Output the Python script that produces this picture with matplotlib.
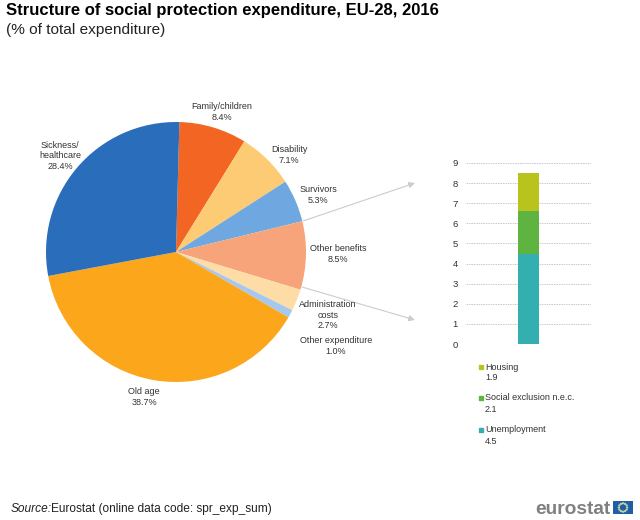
import matplotlib
matplotlib.use('Agg')
import matplotlib.pyplot as plt
from matplotlib.patches import Rectangle, Circle, FancyArrowPatch
import numpy as np

plt.rcParams['font.family'] = ['Liberation Sans', 'DejaVu Sans']

W, H = 640, 520

pie_names = ['Family/children', 'Disability', 'Survivors', 'Other benefits',
             'Administration\ncosts', 'Other expenditure', 'Old age', 'Sickness/\nhealthcare']
pie_values = [8.4, 7.1, 5.3, 8.5, 2.7, 1.0, 38.7, 28.4]
pie_colors = ['#F26522', '#FDCB74', '#6FA8E0', '#F7A47B', '#FDDCA5', '#A6C8EC', '#FBA61B', '#2A6EBB']

bar_names = ['Unemployment', 'Social exclusion n.e.c.', 'Housing']
bar_values = [4.5, 2.1, 1.9]
bar_colors = ['#33AFAF', '#5FB441', '#B9C31E']
bar_ticks = list(range(0, 10))

# label centres on the picture, in pixels
label_pos = [(222, 112), (289, 155), (318, 195), (338, 254),
             (328, 315), (336, 346), (144, 397), (60, 156)]
legend_y = [430, 398, 367]

TXT = '#333333'


def axes_px(x0, y0, x1, y1):
    return fig.add_axes([x0 / W, 1 - y1 / H, (x1 - x0) / W, (y1 - y0) / H])


def text_px(x, y, s, **kw):
    return fig.text(x / W, 1 - y / H, s, **kw)


fig = plt.figure(figsize=(6.4, 5.2), dpi=100)

text_px(6, 10, 'Structure of social protection expenditure, EU-28, 2016', fontsize=12,
        fontweight='bold', color='black', va='center')
text_px(6, 30, '(% of total expenditure)', fontsize=11.1, color='#222222', va='center')

# main pie
ax = axes_px(46, 122, 306, 382)
ax.pie(pie_values, colors=pie_colors, startangle=88.5, counterclock=False, radius=1,
       wedgeprops={'linewidth': 0})
ax.set_xlim(-1, 1)
ax.set_ylim(-1, 1)

for name, val, (x, y) in zip(pie_names, pie_values, label_pos):
    text_px(x, y, '%s\n%.1f%%' % (name, val), fontsize=6.5, color=TXT, ha='center',
            va='center', linespacing=1.2)

# stacked bar for "other benefits"
bx = axes_px(466, 163, 591, 344)
bottom = 0
for name, val, col in zip(bar_names, bar_values, bar_colors):
    bx.bar(0, val, width=0.34, bottom=bottom, color=col, zorder=3)
    bottom += val
bx.set_xlim(-1, 1)
bx.set_ylim(0, 9)
bx.set_xticks([])
bx.set_yticks(bar_ticks)
bx.tick_params(axis='y', length=0, labelsize=6.8, labelcolor=TXT, pad=6)
bx.grid(axis='y', color='#C8C8C8', linewidth=0.7, linestyle=(0, (1.5, 1)))
for s in bx.spines.values():
    s.set_visible(False)

# legend, marker sits on the first line of each entry
for name, val, col, y in zip(bar_names, bar_values, bar_colors, legend_y):
    fig.add_artist(Rectangle((479 / W, 1 - (y + 2) / H), 4 / W, 4 / H, color=col,
                             transform=fig.transFigure))
    text_px(485, y, name, fontsize=6.5, color=TXT, va='center')
    text_px(485, y + 11, '%.1f' % val, fontsize=6.5, color=TXT, va='center')

# arrows from pie to bar
for start, end in [((303, 221), (415, 183)), ((302, 287), (415, 320))]:
    fig.add_artist(FancyArrowPatch(
        (start[0] / W, 1 - start[1] / H), (end[0] / W, 1 - end[1] / H),
        transform=fig.transFigure, arrowstyle='-|>', mutation_scale=9,
        color='#CCCCCC', linewidth=0.8, shrinkA=0, shrinkB=0))

# footer
text_px(11, 509, 'Source:', fontsize=8.6, style='italic', color='#222222', va='center')
text_px(51, 509, 'Eurostat (online data code: spr_exp_sum)', fontsize=8.6, color='#222222', va='center')
text_px(535, 509, 'eurostat', fontsize=13.8, fontweight='bold', color='#808080', va='center')

flag = axes_px(613, 501, 633, 514)
flag.set_xlim(-10, 10)
flag.set_ylim(-6.5, 6.5)
flag.axis('off')
flag.add_patch(Rectangle((-10, -6.5), 20, 13, color='#1F5FA8'))
for a in np.linspace(0, 2 * np.pi, 12, endpoint=False):
    flag.add_patch(Circle((4.2 * np.cos(a), 4.2 * np.sin(a)), 0.4, color='#D9DFA0'))

fig.savefig('out.png', dpi=100)
